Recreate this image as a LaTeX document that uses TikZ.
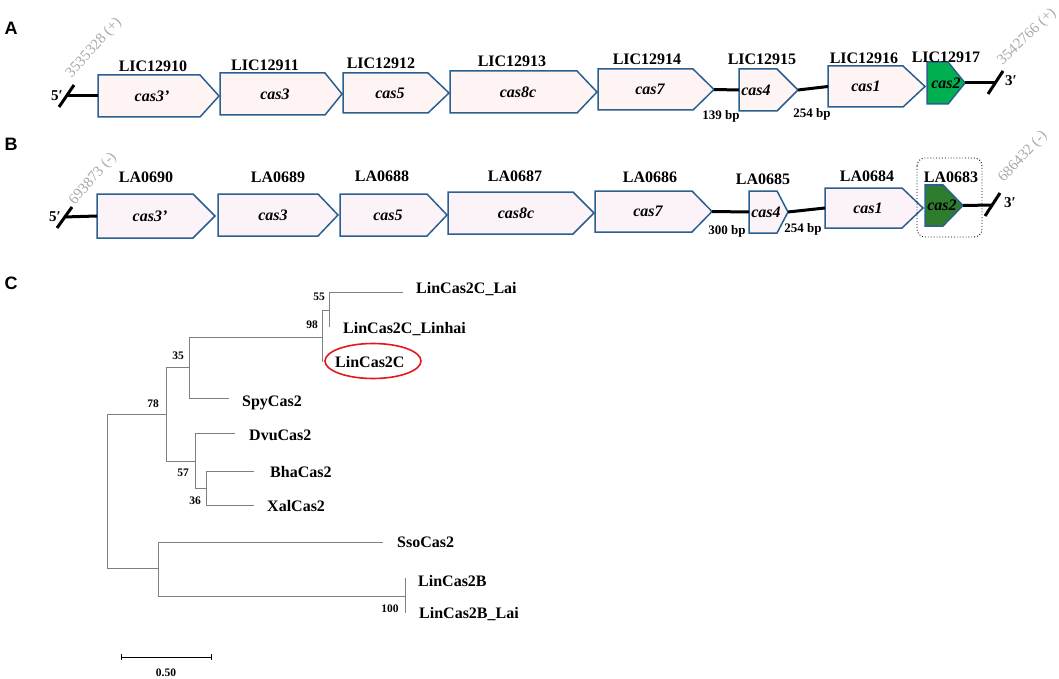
\documentclass[tikz,border=0pt]{standalone}
\usepackage{fontspec}
\usetikzlibrary{shapes.geometric}
\setmainfont{Liberation Serif}
\newfontfamily\panelfont{Liberation Sans}
\definecolor{boxfill}{HTML}{FFF4F4}
\definecolor{boxfillB}{HTML}{FBF3F8}
\definecolor{boxline}{HTML}{2A5F8F}
\definecolor{greenA}{HTML}{00B050}
\definecolor{greenB}{HTML}{2E7D2E}
\definecolor{posgray}{HTML}{A8A8A8}
\definecolor{treegray}{HTML}{808080}
\definecolor{ovalred}{HTML}{E3171C}
\newcommand{\genearrow}[9]{%
  \draw[#7] (#2,#5) -- (#3,#5) -- (#4,{(#5+#6)/2}) -- (#3,#6) -- (#2,#6) -- cycle;
  \coordinate (#1-w) at (#2,{(#5+#6)/2});
  \coordinate (#1-e) at (#4,{(#5+#6)/2});
  \node[genename] (#1) at (#8,{(#5+#6)/2}) {#9};}
\tikzset{
  genebox/.style={draw=boxline, fill=boxfill, line width=1.5pt, line join=miter},
  geneboxB/.style={draw=boxline, fill=boxfillB, line width=1.5pt, line join=miter},
  greenboxA/.style={draw=boxline, fill=greenA, line width=1.5pt, line join=miter},
  greenboxB/.style={draw=boxline, fill=greenB, line width=1.5pt, line join=miter},
  genename/.style={inner sep=0pt, font=\fontsize{16}{18}\selectfont\bfseries\itshape},
  locus/.style={inner sep=0pt, font=\fontsize{16}{18}\selectfont\bfseries},
  bplab/.style={inner sep=0pt, anchor=base, font=\fontsize{13}{15}\selectfont\bfseries},
  endlab/.style={inner sep=0pt, font=\fontsize{15}{17}\selectfont\bfseries},
  poslab/.style={inner sep=0pt, text=posgray, font=\fontsize{15}{17}\selectfont},
  panel/.style={inner sep=0pt, font=\fontsize{18}{20}\selectfont\panelfont\bfseries},
  dna/.style={line width=3pt, black},
  slash/.style={line width=3pt, black},
  tree/.style={treegray, line width=0.9pt},
  leaf/.style={inner sep=0pt, anchor=base west, font=\fontsize{16}{18}\selectfont\bfseries},
  boot/.style={inner sep=0pt, font=\fontsize{11.5}{13}\selectfont\bfseries},
}
\begin{document}
\begin{tikzpicture}[x=1pt,y=-1pt]
\useasboundingbox (0,0) rectangle (1059,679);
% ---------------- Panel A ----------------
\node[panel] (pA) at (11,28) {A};
\genearrow{a1}{98}{200}{219}{75}{117}{genebox}{152}{cas3’}
\genearrow{a2}{220}{325}{342}{73}{115}{genebox}{275}{cas3}
\genearrow{a3}{343}{428}{449}{73}{113}{genebox}{390}{cas5}
\genearrow{a4}{450}{577}{597}{71}{113}{genebox}{518}{cas8c}
\genearrow{a5}{598}{693}{714}{69}{110}{genebox}{650}{cas7}
\genearrow{a6}{739}{777}{798}{69}{111}{genebox}{756}{\textit{cas}4}
\genearrow{a7}{828}{903}{925}{66}{107}{genebox}{866}{cas1}
\genearrow{a8}{927}{948}{965}{62}{104}{greenboxA}{946}{cas2}
\coordinate (a5s) at (66,96);
\coordinate (a3s) at (995,83);
\draw[slash] (59,107) -- (74,85);
\draw[slash] (988,94) -- (1003,71);
\draw[dna] (a5s) -- (a1-w);
\draw[dna] (a5-e) -- (a6-w);
\draw[dna] (a6-e) -- (a7-w);
\draw[dna] (a8-e) -- (a3s);
\node[endlab] (a5p) at (57,96) {5′};
\node[endlab] (a3p) at (1011,81) {3′};
\node[locus] (la1) at (153,66) {LIC12910};
\node[locus] (la2) at (265,65) {LIC12911};
\node[locus] (la3) at (381,63) {LIC12912};
\node[locus] (la4) at (512,61) {LIC12913};
\node[locus] (la5) at (647,59) {LIC12914};
\node[locus] (la6) at (762,59) {LIC12915};
\node[locus] (la7) at (864,58) {LIC12916};
\node[locus] (la8) at (946,57) {LIC12917};
\node[bplab] (bpa1) at (721,120) {139 bp};
\node[bplab] (bpa2) at (812,118) {254 bp};
\node[poslab, rotate=48] (posa1) at (94,48) {3535328 (+)};
\node[poslab, rotate=44] (posa2) at (1027,37) {3542766 (+)};
% ---------------- Panel B ----------------
\node[panel] (pB) at (11,144) {B};
\genearrow{b1}{97}{193}{215}{194}{238}{geneboxB}{150}{cas3’}
\genearrow{b2}{218}{318}{338}{194}{236}{geneboxB}{273}{cas3}
\genearrow{b3}{340}{427}{447}{194}{236}{geneboxB}{388}{cas5}
\genearrow{b4}{448}{573}{594}{192}{234}{geneboxB}{516}{cas8c}
\genearrow{b5}{595}{692}{712}{191}{232}{geneboxB}{648}{cas7}
\genearrow{b6}{749}{777}{788}{191}{233}{geneboxB}{766}{\textit{cas}4}
\genearrow{b7}{825}{902}{923}{188}{228}{geneboxB}{868}{cas1}
\genearrow{b8}{925}{943}{963}{185}{226}{greenboxB}{942}{cas2}
\coordinate (b5s) at (64,217);
\coordinate (b3s) at (992,205);
\draw[slash] (57,228) -- (72,207);
\draw[slash] (985,216) -- (1000,193);
\draw[dna] (b5s) -- (b1-w);
\draw[dna] (b5-e) -- (b6-w);
\draw[dna] (b6-e) -- (b7-w);
\draw[dna] (b8-e) -- (b3s);
\node[endlab] (b5p) at (55,217) {5′};
\node[endlab] (b3p) at (1010,203) {3′};
\node[locus] (lb1) at (146,177) {LA0690};
\node[locus] (lb2) at (278,177) {LA0689};
\node[locus] (lb3) at (382,176) {LA0688};
\node[locus] (lb4) at (515,176) {LA0687};
\node[locus] (lb5) at (650,177) {LA0686};
\node[locus] (lb6) at (763,179) {LA0685};
\node[locus] (lb7) at (867,176) {LA0684};
\node[locus] (lb8) at (951,177) {LA0683};
\draw[dotted, line width=0.9pt, rounded corners=8pt] (917,158) rectangle (982,237);
\node[bplab] (bpb1) at (727,234) {300 bp};
\node[bplab] (bpb2) at (803,232) {254 bp};
\node[poslab, rotate=49] (posb1) at (93,179) {693873 (-)};
\node[poslab, rotate=47] (posb2) at (1023,157) {686432 (-)};
% ---------------- Panel C ----------------
\node[panel] (pC) at (11,283) {C};
\coordinate (root) at (107,491);
\coordinate (n78) at (166,414);
\coordinate (n35) at (189,367);
\coordinate (n98) at (322,337);
\coordinate (n55) at (329,310);
\coordinate (laiE) at (403,292);
\coordinate (linhaiE) at (329,327);
\coordinate (lincE) at (322,362);
\coordinate (spyE) at (229,398);
\coordinate (n57) at (195,461);
\coordinate (dvuE) at (235,433);
\coordinate (n36) at (206,488);
\coordinate (bhaE) at (254,471);
\coordinate (xalE) at (254,505);
\coordinate (nss) at (158,568);
\coordinate (ssoE) at (383,542);
\coordinate (n100) at (405,596);
\coordinate (bE) at (405,578);
\coordinate (blaiE) at (405,613);
\draw[tree] (root) |- (n78);
\draw[tree] (root) |- (nss);
\draw[tree] (n78) |- (n35);
\draw[tree] (n78) |- (n57);
\draw[tree] (n35) |- (n98);
\draw[tree] (n35) |- (spyE);
\draw[tree] (n98) |- (n55);
\draw[tree] (n98) -- (lincE);
\draw[tree] (n55) |- (laiE);
\draw[tree] (n55) -- (linhaiE);
\draw[tree] (n57) |- (dvuE);
\draw[tree] (n57) |- (n36);
\draw[tree] (n36) |- (bhaE);
\draw[tree] (n36) |- (xalE);
\draw[tree] (nss) |- (ssoE);
\draw[tree] (nss) |- (n100);
\draw[tree] (n100) -- (bE);
\draw[tree] (n100) -- (blaiE);
\node[leaf] (tLai) at (416,293) {LinCas2C\_Lai};
\node[leaf] (tLinhai) at (343,333) {LinCas2C\_Linhai};
\node[leaf] (tLinC) at (335,367) {LinCas2C};
\node[leaf] (tSpy) at (242,406) {SpyCas2};
\node[leaf] (tDvu) at (249,440) {DvuCas2};
\node[leaf] (tBha) at (270,477) {BhaCas2};
\node[leaf] (tXal) at (267,511) {XalCas2};
\node[leaf] (tSso) at (397,547) {SsoCas2};
\node[leaf] (tB) at (418,586) {LinCas2B};
\node[leaf] (tBLai) at (419,618) {LinCas2B\_Lai};
\node[draw=ovalred, line width=1.6pt, ellipse, minimum width=96pt, minimum height=35pt, inner sep=0pt] (oval) at (373,361) {};
\node[boot] (b55) at (319,297) {55};
\node[boot] (b98) at (312,325) {98};
\node[boot] (b35) at (178,356) {35};
\node[boot] (b78) at (153,404) {78};
\node[boot] (b57) at (183,473) {57};
\node[boot] (b36) at (195,501) {36};
\node[boot] (b100) at (390,609) {100};
\coordinate (sL) at (121,657);
\coordinate (sR) at (211,657);
\draw[black, line width=0.9pt] (sL) -- (sR);
\draw[black, line width=0.9pt] (121,654) -- (121,660);
\draw[black, line width=0.9pt] (211,654) -- (211,660);
\node[boot] (scale) at (166,673) {0.50};
\end{tikzpicture}
\end{document}
